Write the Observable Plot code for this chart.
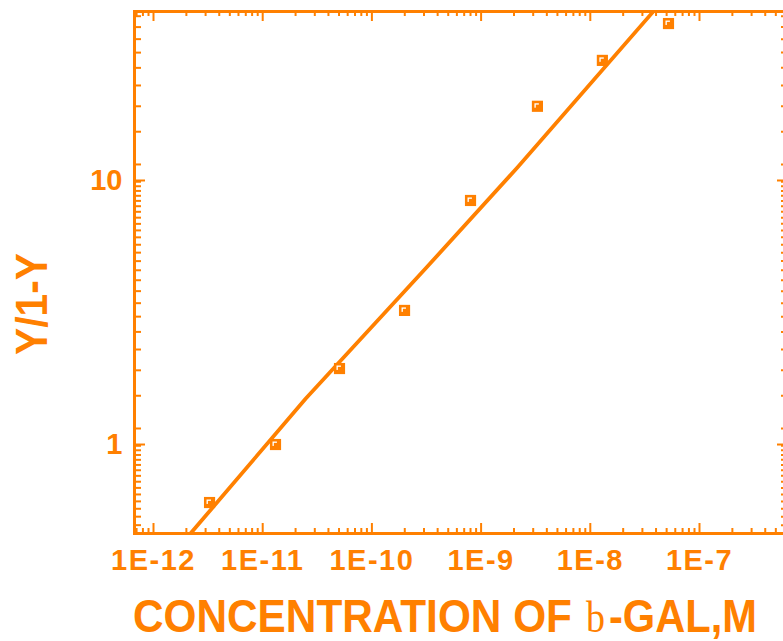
<!DOCTYPE html>
<html>
<head>
<meta charset="utf-8">
<script src="https://cdn.jsdelivr.net/npm/d3@7"></script>
<script src="https://cdn.jsdelivr.net/npm/@observablehq/plot@0.6"></script>
<style>
  body { margin: 0; background: #fff; }
  #chart svg g[aria-label="x-axis tick label"] text { letter-spacing: 1.5px; }
</style>
</head>
<body>
<div id="chart"></div>
<script>
// ---- data ----
const concentration = [3.26e-12, 1.31e-11, 5.05e-11, 1.99e-10, 8.0e-10, 3.28e-9, 1.29e-8, 5.2e-8];
const ratio = [0.603, 1.0, 1.94, 3.22, 8.40, 19.1, 28.5, 39.3];
const fitConcentration = [2.18e-12, 2.47e-11, 3.10e-10, 2.15e-9, 3.79e-8];
const fitRatio = [0.46, 1.49, 4.64, 11.2, 43.7];
const xTicks = [1e-12, 1e-11, 1e-10, 1e-9, 1e-8, 1e-7];
const xTickLabels = ["1E-12", "1E-11", "1E-10", "1E-9", "1E-8", "1E-7"];
const yTicks = [1, 10];
const yTickLabels = ["1", "10"];
const xTitleParts = ["CONCENTRATION OF", "b", "-GAL,M"];
const yTitle = "Y/1-Y";

const ORANGE = "#ff8000";
const W = 783, H = 641;
const mL = 134, mR = -5, mT = 11, mB = 108;
const FW = W - mL - mR, FH = H - mT - mB;
const xDomain = [Math.pow(10, -12.174), Math.pow(10, -6.185)];
const yDomain = [Math.pow(10, -0.337), Math.pow(10, 1.640)];

// minor tick positions (kept inside the domain)
const xMinor = [];
for (let e = -13; e <= -7; e++) for (let m = 2; m <= 9; m++) {
  const v = +(m * Math.pow(10, e)).toPrecision(6);
  if (v >= xDomain[0] && v <= xDomain[1]) xMinor.push(v);
}
const yMinor = [];
for (const d of [0.1, 1, 10]) for (let k = 0; k < 24; k++) {
  const v = +(d * (1.15 + 0.38 * k)).toPrecision(6);
  if (v < 10 * d && v >= yDomain[0] && v <= yDomain[1]) yMinor.push(v);
}

const points = concentration.map((c, i) => ({c, r: ratio[i]}));
const fit = fitConcentration.map((c, i) => ({c, r: fitRatio[i]}));
const xLab = new Map(xTicks.map((t, i) => [t, xTickLabels[i]]));
const yLab = new Map(yTicks.map((t, i) => [t, yTickLabels[i]]));

// inward ticks drawn as tick marks inset to the wanted length
const tx = (ticks, side, len) => Plot.tickX(ticks, {x: d => d, stroke: ORANGE, strokeWidth: 2,
  ...(side === "bottom" ? {insetTop: FH - len} : {insetBottom: FH - len})});
const ty = (ticks, side, len) => Plot.tickY(ticks, {y: d => d, stroke: ORANGE, strokeWidth: 2,
  ...(side === "left" ? {insetRight: FW - len} : {insetLeft: FW - len})});

const svg = Plot.plot({
  width: W,
  height: H,
  marginLeft: mL,
  marginRight: mR,
  marginTop: mT,
  marginBottom: mB,
  x: {type: "log", domain: xDomain, label: null},
  y: {type: "log", domain: yDomain, label: null},
  style: {
    fontFamily: "'Liberation Sans', Arial, sans-serif",
    fontSize: "29px",
    fontWeight: "bold",
    color: ORANGE,
    background: "#fff",
    overflow: "visible"
  },
  marks: [
    // tick labels
    Plot.axisX({ticks: xTicks, tickSize: 0, tickPadding: 16, tickFormat: d => xLab.get(d), label: null, anchor: "bottom"}),
    Plot.axisY({ticks: yTicks, tickSize: 0, tickPadding: 12, tickFormat: d => yLab.get(d), label: null, anchor: "left"}),
    // inward ticks
    tx(xTicks, "bottom", 10), tx(xMinor, "bottom", 5),
    tx(xTicks, "top", 10), tx(xMinor, "top", 5),
    ty(yTicks, "left", 11), ty(yMinor, "left", 7),
    ty(yTicks, "right", 11), ty(yMinor, "right", 7),
    Plot.frame({stroke: ORANGE, strokeWidth: 3}),
    // fit line
    Plot.line(fit, {x: "c", y: "r", stroke: ORANGE, strokeWidth: 3.8, clip: true}),
    // data markers
    Plot.dot(points, {x: "c", y: "r", symbol: "square", r: 6.3, fill: ORANGE, stroke: "none"}),
    Plot.dot(points, {x: "c", y: "r", symbol: "square", r: 2.5, fill: "#fff", stroke: "none", dx: -0.8, dy: -0.8}),
    Plot.dot(points, {x: "c", y: "r", symbol: "square", r: 2.1, fill: ORANGE, stroke: "none", dx: 0.2, dy: 0.2})
  ]
});

document.getElementById("chart").appendChild(svg);

// axis titles (horizontally condensed with a scale transform)
const s = d3.select(svg);
const titleParts = [
  {text: xTitleParts[0], x: 133, len: 439, serif: false, size: 47},
  {text: xTitleParts[1], x: 586, len: 19, serif: true, size: 45},
  {text: xTitleParts[2], x: 609, len: 148, serif: false, size: 47}
];
for (const p of titleParts) {
  const t = s.append("text")
    .attr("text-anchor", "start")
    .attr("font-size", p.size)
    .attr("fill", ORANGE)
    .text(p.text);
  if (p.serif) t.attr("font-family", "'Liberation Serif', 'Times New Roman', serif").attr("font-weight", "normal");
  else t.attr("font-weight", "bold");
  const natural = t.node().getComputedTextLength() || p.len;
  t.attr("transform", `translate(${p.x},632) scale(${p.len / natural},1)`);
}

const yt = s.append("text")
  .attr("text-anchor", "middle")
  .attr("dy", "0.358em")
  .attr("font-size", 44).attr("font-weight", "bold")
  .attr("fill", ORANGE)
  .text(yTitle);
const yNatural = yt.node().getComputedTextLength() || 102;
yt.attr("transform", `translate(31,304) rotate(-90) scale(${102 / yNatural},1)`);
</script>
</body>
</html>
